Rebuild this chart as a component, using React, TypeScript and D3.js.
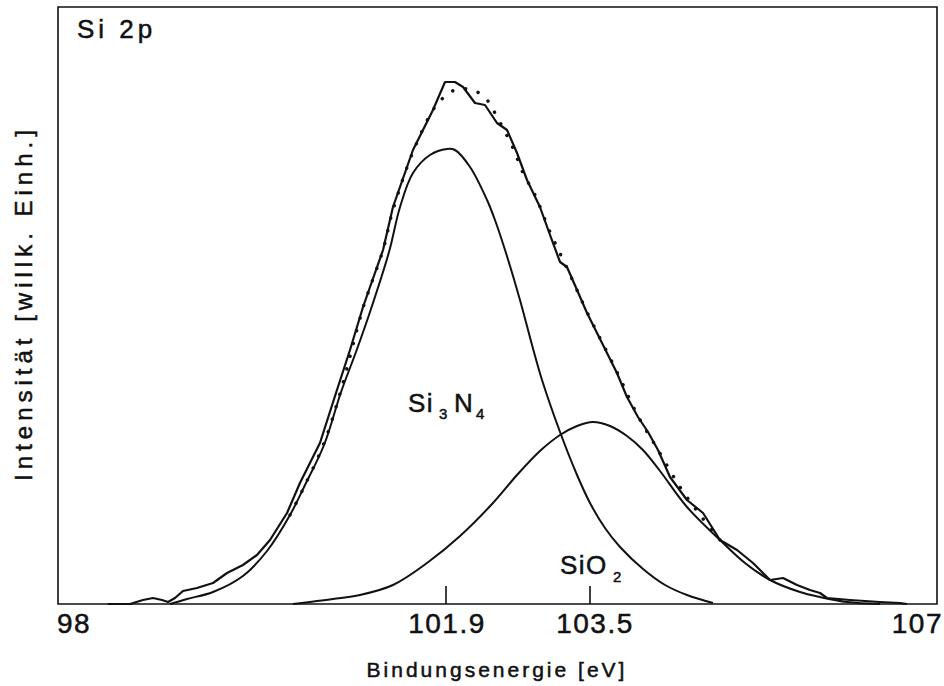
import React from 'react';
import * as d3 from 'd3';

// Axis ticks (binding energy, eV)
const xTickValues = [98, 101.9, 103.5, 107];
const xTickLabels = ['98', '101.9', '103.5', '107'];
const innerTicks = [101.9, 103.5];

// Measured spectrum (solid, jagged)
const measuredE = [98.5, 98.724, 98.854, 98.955, 99.045, 99.106, 99.176, 99.256, 99.397, 99.558, 99.699, 99.859, 100.0, 100.131, 100.302, 100.432, 100.633, 100.804, 100.935, 101.066, 101.267, 101.367, 101.568, 101.769, 101.89, 102.0, 102.089, 102.222, 102.333, 102.467, 102.578, 102.689, 102.8, 102.944, 103.056, 103.167, 103.244, 103.356, 103.467, 103.571, 103.772, 103.873, 103.984, 104.085, 104.186, 104.307, 104.478, 104.64, 104.811, 104.983, 105.144, 105.316, 105.447, 105.588, 105.719, 105.82, 105.891, 106.123, 106.425, 106.627, 106.697];
const measuredI = [0, 0, 4, 6, 4, 2, 6, 13, 16, 21, 31, 39, 49, 64, 91, 121, 161, 214, 254, 297, 354, 397, 454, 494, 522, 522, 517, 501, 499, 481, 474, 451, 424, 397, 369, 342, 337, 314, 291, 271, 231, 207, 187, 172, 154, 127, 104, 91, 64, 54, 41, 24, 26, 19, 14, 11, 6, 4, 2, 1, 0];

// Fit envelope (dotted)
const fitE = [100.332, 100.483, 100.674, 100.845, 101.066, 101.267, 101.367, 101.568, 101.769, 101.87, 102.0, 102.2, 102.356, 102.444, 102.644, 102.756, 102.889, 103.056, 103.244, 103.467, 103.772, 103.984, 104.186, 104.408, 104.61, 104.811];
const fitI = [89, 119, 161, 214, 296, 354, 394, 452, 494, 506, 514, 514, 504, 491, 456, 431, 409, 372, 336, 292, 232, 188, 154, 117, 89, 64];

// Si3N4 component
const si3n4E = [99.126, 99.297, 99.558, 99.859, 100.101, 100.332, 100.483, 100.674, 100.845, 100.995, 101.136, 101.327, 101.438, 101.568, 101.739, 101.911, 102.0, 102.167, 102.356, 102.444, 102.556, 102.722, 102.856, 102.967, 103.167, 103.356, 103.5, 103.651, 103.803, 104.035, 104.257, 104.478, 104.74];
const si3n4I = [0, 5, 12, 28, 53, 89, 119, 159, 212, 252, 292, 352, 397, 431, 449, 455, 454, 437, 404, 384, 354, 304, 259, 224, 172, 129, 101, 76, 57, 35, 19, 9, 1];

// SiO2 component
const sio2E = [100.362, 100.764, 101.035, 101.367, 101.709, 102.056, 102.422, 102.689, 102.944, 103.167, 103.356, 103.53, 103.702, 103.873, 104.034, 104.206, 104.478, 104.811, 105.063, 105.316, 105.618, 105.82, 106.093, 106.425];
const sio2I = [0, 5, 9, 19, 41, 68, 101, 129, 153, 169, 178, 182, 178, 168, 154, 133, 97, 64, 41, 24, 12, 7, 2, 0];

const W = 944;
const H = 686;
const FONT = "'Liberation Sans', Arial, Helvetica, sans-serif";
const INK = '#111';

export default function App() {
  const x = d3.scaleLinear().domain([98, 101.9, 103.5, 107]).range([58, 446, 590, 937]);
  const y = d3.scaleLinear().domain([0, 597]).range([604, 7]);

  const jagged = d3.line<[number, number]>().x(d => x(d[0])).y(d => y(d[1])).curve(d3.curveLinear);
  const smooth = d3.line<[number, number]>().x(d => x(d[0])).y(d => y(d[1])).curve(d3.curveCatmullRom.alpha(0.5));

  const zip = (a: number[], b: number[]) => a.map((v, i) => [v, b[i]] as [number, number]);

  const x0 = x(98), x1 = x(107), yb = y(0), yt = y(597);
  const txt = { fill: INK, stroke: INK, strokeWidth: 0.5 };

  return (
    <svg width={W} height={H} style={{ position: 'absolute', left: 0, top: 0, background: '#fff' }} fontFamily={FONT}>
      <rect x={0} y={0} width={W} height={H} fill="#fff" />
      {/* frame */}
      <path d={`M${x0},${yb}V${yt}H${x1}V${yb}Z`} fill="none" stroke={INK} strokeWidth={1.6} />
      {/* inner ticks */}
      {innerTicks.map(t => (
        <line key={t} x1={x(t)} x2={x(t)} y1={yb} y2={yb - 18} stroke={INK} strokeWidth={1.6} />
      ))}
      {/* curves */}
      <path d={smooth(zip(si3n4E, si3n4I)) || ''} fill="none" stroke={INK} strokeWidth={2} />
      <path d={smooth(zip(sio2E, sio2I)) || ''} fill="none" stroke={INK} strokeWidth={2} />
      <path d={jagged(zip(measuredE, measuredI)) || ''} fill="none" stroke={INK} strokeWidth={2.2} strokeLinejoin="round" />
      <path d={smooth(zip(fitE, fitI)) || ''} fill="none" stroke={INK} strokeWidth={3.4} strokeDasharray="0.1 13" strokeLinecap="round" />

      {/* tick labels */}
      {xTickValues.map((v, i) => {
        const anchor = i === 0 ? 'start' : i === xTickValues.length - 1 ? 'end' : 'middle';
        const px = i === 0 ? x(v) - 1 : i === xTickValues.length - 1 ? x(v) + 6 : x(v) + (v === 103.5 ? 5 : 1);
        return (
          <text key={v} x={px} y={633} fontSize={28} letterSpacing={1.5} textAnchor={anchor} {...txt}>
            {xTickLabels[i]}
          </text>
        );
      })}

      {/* axis titles */}
      <text x={497} y={677} fontSize={21} letterSpacing={3} textAnchor="middle" {...txt}>Bindungsenergie [eV]</text>
      <text transform="translate(32,303) rotate(-90)" fontSize={24} letterSpacing={5} textAnchor="middle" {...txt}>Intensität [willk. Einh.]</text>

      {/* panel label */}
      <text x={77} y={38} fontSize={26} letterSpacing={4} {...txt}>Si 2p</text>

      {/* component labels */}
      <text y={412} fontSize={26} letterSpacing={1.5} {...txt}>
        <tspan x={408}>Si</tspan>
        <tspan x={439} y={419} fontSize={15}>3</tspan>
        <tspan x={454} y={412}>N</tspan>
        <tspan x={476} y={419} fontSize={15}>4</tspan>
      </text>
      <text y={574} fontSize={26} letterSpacing={1.5} {...txt}>
        <tspan x={560}>SiO</tspan>
        <tspan x={613} y={582} fontSize={15}>2</tspan>
      </text>
    </svg>
  );
}
